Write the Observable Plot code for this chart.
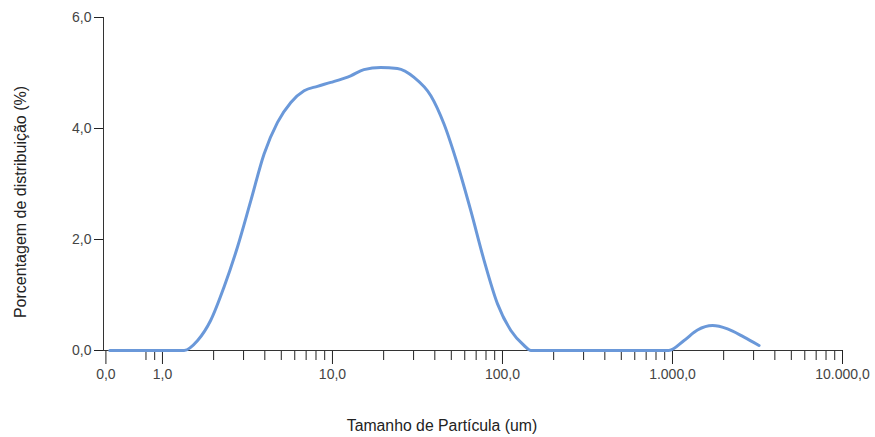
<!DOCTYPE html>
<html>
<head>
<meta charset="utf-8">
<script src="https://cdn.jsdelivr.net/npm/d3@7"></script>
<script src="https://cdn.jsdelivr.net/npm/@observablehq/plot@0.6"></script>
<style>
  html, body { margin: 0; padding: 0; background: #fff; }
</style>
</head>
<body>
<div id="chart"></div>
<script>
// Particle sizes (um) and distribution percentage
const sizes = [0.49, 1.0, 1.34, 1.61, 1.92, 2.30, 2.76, 3.31, 3.96, 4.75, 5.69, 6.81, 8.16, 9.77, 12.8, 15.3, 19.2, 24.1, 30.2, 37.9, 45.3, 54.3, 65.1, 78.0, 93.5, 112, 134, 147, 200, 500, 951, 1170, 1403, 1720, 2107, 2637, 3231];
const percents = [0, 0, 0, 0.18, 0.54, 1.14, 1.86, 2.70, 3.54, 4.11, 4.47, 4.68, 4.76, 4.83, 4.95, 5.06, 5.10, 5.08, 4.92, 4.59, 4.08, 3.36, 2.52, 1.62, 0.84, 0.36, 0.09, 0, 0, 0, 0, 0.18, 0.37, 0.45, 0.39, 0.24, 0.09];

const xMajorTicks = [0.465, 1, 10, 100, 1000, 10000];
const xMajorLabels = ["0,0", "1,0", "10,0", "100,0", "1.000,0", "10.000,0"];
const xMinorTicks = [0.8, 0.9, 2, 3, 4, 5, 6, 7, 8, 9, 20, 30, 40, 50, 60, 70, 80, 90, 200, 300, 400, 500, 600, 700, 800, 900, 2000, 3000, 4000, 5000, 6000, 7000, 8000, 9000];
const yTicks = [0, 2, 4, 6];
const yTickLabels = ["0,0", "2,0", "4,0", "6,0"];

const xLabel = "Tamanho de Partícula (um)";
const yLabel = "Porcentagem de distribuição (%)";

const data = sizes.map((s, i) => ({size: s, pct: percents[i]}));
const xDomain = [0.45, 10000];
const xLabelMap = new Map(xMajorTicks.map((t, i) => [t, xMajorLabels[i]]));
const yLabelMap = new Map(yTicks.map((t, i) => [t, yTickLabels[i]]));

const chart = Plot.plot({
  width: 875,
  height: 437,
  marginTop: 17,
  marginBottom: 87,
  marginLeft: 103,
  marginRight: 33,
  style: {fontFamily: "'Liberation Sans', Arial, sans-serif", fontSize: "14px", color: "#444", background: "#fff"},
  x: {type: "log", domain: xDomain},
  y: {domain: [0, 6]},
  marks: [
    Plot.axisX({ticks: xMinorTicks, tickSize: 10, text: null, label: null, stroke: "#222"}),
    Plot.axisX(xMajorTicks, {tickSize: 14, tickPadding: 5, text: (d) => xLabelMap.get(d), label: null, stroke: "#222", fontSize: 14}),
    Plot.axisY(yTicks, {tickSize: 9, tickPadding: 3, text: (d) => yLabelMap.get(d), label: null, stroke: "#222", fontSize: 14}),
    Plot.ruleY([0], {stroke: "#333"}),
    Plot.ruleX([xDomain[0]], {y1: 0, y2: 6, stroke: "#333"}),
    Plot.line(data, {x: "size", y: "pct", stroke: "#6a98d9", strokeWidth: 3, curve: "monotone-x"}),
    Plot.text([xLabel], {frameAnchor: "bottom", dx: -31, dy: 80, fontSize: 15.8, fill: "#222"}),
    Plot.text([yLabel], {frameAnchor: "left", textAnchor: "middle", rotate: -90, dx: -83, dy: 18, fontSize: 16, fill: "#222"})
  ]
});
document.getElementById("chart").appendChild(chart);
</script>
</body>
</html>
